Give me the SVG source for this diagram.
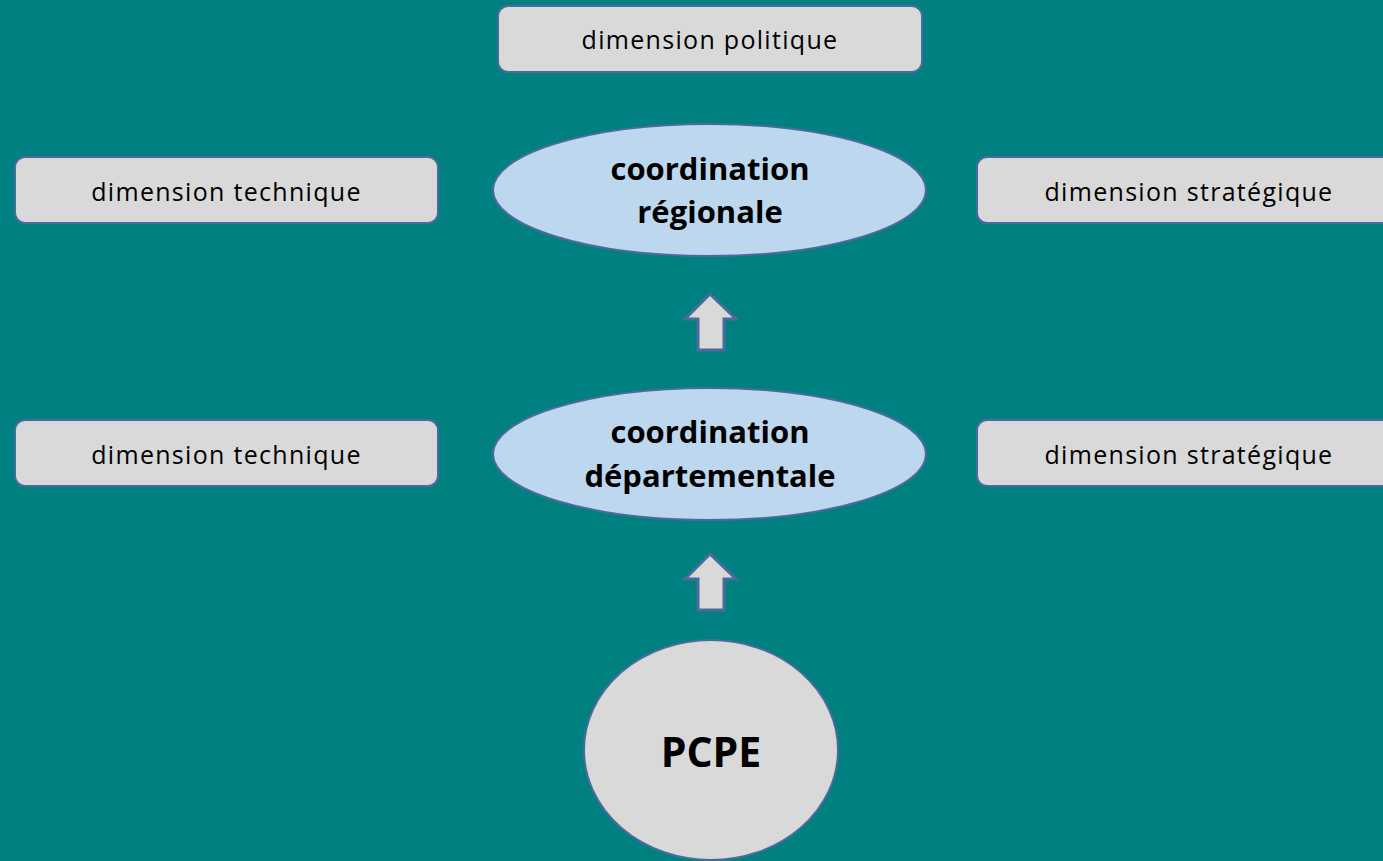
<svg xmlns="http://www.w3.org/2000/svg" width="1383" height="861" viewBox="0 0 1383 861">
<style>
.box{fill:#d9d9d9;stroke:#4a6b9b;stroke-width:2}
.ell{fill:#bdd7ee;stroke:#4a6b9b;stroke-width:2}
.circ{fill:#d9d9d9;stroke:#4a6b9b;stroke-width:2}
.arr{fill:#d9d9d9;stroke:#4a6b9b;stroke-width:3;stroke-linejoin:miter}
.t{font-family:"Open Sans","Liberation Sans",sans-serif;font-size:25px;letter-spacing:1.3px;fill:#000;text-anchor:middle}
.b{font-family:"Open Sans","Liberation Sans",sans-serif;font-size:31px;font-weight:bold;fill:#000;text-anchor:middle}
.p{font-family:"Open Sans","Liberation Sans",sans-serif;font-size:41px;font-weight:bold;fill:#000;text-anchor:middle}
</style>
<rect width="1383" height="861" fill="#008080"/>
<g id="politique"><rect class="box" x="498" y="6" width="424" height="66" rx="10"/><text class="t" x="710" y="49">dimension politique</text></g>
<g id="tech1"><rect class="box" x="15" y="157" width="423" height="66" rx="10"/><text class="t" x="226.5" y="201">dimension technique</text></g>
<g id="strat1"><rect class="box" x="977" y="157" width="424" height="66" rx="10"/><text class="t" x="1189" y="201">dimension stratégique</text></g>
<g id="regionale"><ellipse class="ell" cx="709.5" cy="190" rx="216.5" ry="66"/><text class="b" x="710" y="180">coordination</text><text class="b" x="710" y="223">régionale</text></g>
<g id="tech2"><rect class="box" x="15" y="420" width="423" height="66" rx="10"/><text class="t" x="226.5" y="464">dimension technique</text></g>
<g id="strat2"><rect class="box" x="977" y="420" width="424" height="66" rx="10"/><text class="t" x="1189" y="464">dimension stratégique</text></g>
<g id="departementale"><ellipse class="ell" cx="709.5" cy="454" rx="216.5" ry="66"/><text class="b" x="710" y="443">coordination</text><text class="b" x="710" y="487">départementale</text></g>
<g id="pcpe"><ellipse class="circ" cx="711" cy="750" rx="127" ry="110"/><text class="p" x="711" y="767">PCPE</text></g>
<g id="connectors">
<polygon class="arr" points="710,294 736,319 724,319 724,350 698,350 698,319 685,319"/>
<polygon class="arr" points="710,554 736,579 724,579 724,610 698,610 698,579 685,579"/>
</g>
</svg>
